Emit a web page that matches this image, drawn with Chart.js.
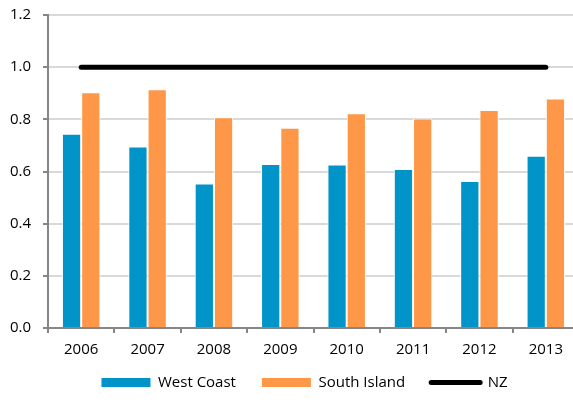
<!DOCTYPE html>
<html>
<head>
<meta charset="utf-8">
<script src="https://cdn.jsdelivr.net/npm/chart.js@4"></script>
<style>
  html, body { margin: 0; padding: 0; background: #fff; overflow: hidden; }
  #wrap { width: 579px; height: 404px; }
</style>
</head>
<body>
<div id="wrap"><canvas id="grafico" width="579" height="404"></canvas></div>
<script>
// Anos e séries
const anos = ['2006', '2007', '2008', '2009', '2010', '2011', '2012', '2013'];
const westCoast = [0.745, 0.696, 0.554, 0.629, 0.627, 0.610, 0.564, 0.660];
const southIsland = [0.904, 0.915, 0.808, 0.768, 0.823, 0.803, 0.836, 0.880];
const nz = [1.0, 1.0, 1.0, 1.0, 1.0, 1.0, 1.0, 1.0];

const fonte = { family: "'Open Sans', sans-serif", size: 15 };
const cinza = '#868686';

// legenda mais baixa e mais próxima do eixo, sem mudar o espaço entre itens
const ajusteLegenda = {
    id: 'ajusteLegenda',
    afterInit(chart) {
        const legenda = chart.legend;
        const fitOriginal = legenda.fit.bind(legenda);
        legenda.fit = function () {
            fitOriginal();
            this.height -= 22;
        };
        legenda.draw = function () {
            if (!this.options.display) return;
            const c = this.ctx;
            c.save();
            c.translate(15, -18);
            this._draw();
            c.restore();
        };
    }
};

const ctx = document.getElementById('grafico').getContext('2d');
new Chart(ctx, {
    type: 'bar',
    data: {
        labels: anos,
        datasets: [{
            label: 'West Coast',
            data: westCoast,
            backgroundColor: '#0094C8',
            borderColor: '#ffffff',
            borderWidth: 1,
            borderSkipped: 'bottom',
            barPercentage: 1,
            categoryPercentage: 0.58
        }, {
            label: 'South Island',
            data: southIsland,
            backgroundColor: '#FF9748',
            borderColor: '#ffffff',
            borderWidth: 1,
            borderSkipped: 'bottom',
            barPercentage: 1,
            categoryPercentage: 0.58
        }, {
            type: 'line',
            label: 'NZ',
            data: nz,
            borderColor: '#000000',
            backgroundColor: '#000000',
            borderWidth: 5,
            borderCapStyle: 'round',
            pointRadius: 0,
            fill: false
        }]
    },
    plugins: [ajusteLegenda],
    options: {
        responsive: false,
        animation: false,
        layout: { padding: { top: 15, right: 0, bottom: 8, left: 0 } },
        plugins: {
            tooltip: { enabled: false },
            legend: {
                position: 'bottom',
                labels: {
                    color: '#000',
                    font: { family: "'Open Sans', sans-serif", size: 15 },
                    usePointStyle: true,
                    boxHeight: 9,
                    pointStyleWidth: 49,
                    padding: 26,
                    generateLabels: chart => {
                        const itens = Chart.defaults.plugins.legend.labels.generateLabels(chart);
                        itens.forEach(item => {
                            if (item.text === 'NZ') {
                                item.pointStyle = 'line';
                                item.lineWidth = 5;
                                item.strokeStyle = '#000';
                                item.lineCap = 'round';
                            } else {
                                item.pointStyle = 'rect';
                                item.lineWidth = 0;
                                item.strokeStyle = item.fillStyle;
                            }
                        });
                        return itens;
                    }
                }
            }
        },
        scales: {
            x: {
                border: { color: cinza, width: 2 },
                grid: {
                    drawOnChartArea: false,
                    color: cinza,
                    tickLength: 5,
                    lineWidth: 2
                },
                ticks: { color: '#000', font: fonte, padding: 8 }
            },
            y: {
                min: 0,
                max: 1.2,
                border: { color: cinza, width: 2 },
                grid: {
                    color: '#d9d9d9',
                    lineWidth: 2,
                    tickColor: cinza,
                    tickLength: 5
                },
                ticks: {
                    stepSize: 0.2,
                    color: '#000',
                    font: fonte,
                    padding: 12,
                    callback: v => v.toFixed(1)
                },
                afterFit: scale => {
                    scale.width = 48;
                    scale.paddingTop = 0;
                    scale.paddingBottom = 0;
                }
            }
        }
    }
});
</script>
</body>
</html>
